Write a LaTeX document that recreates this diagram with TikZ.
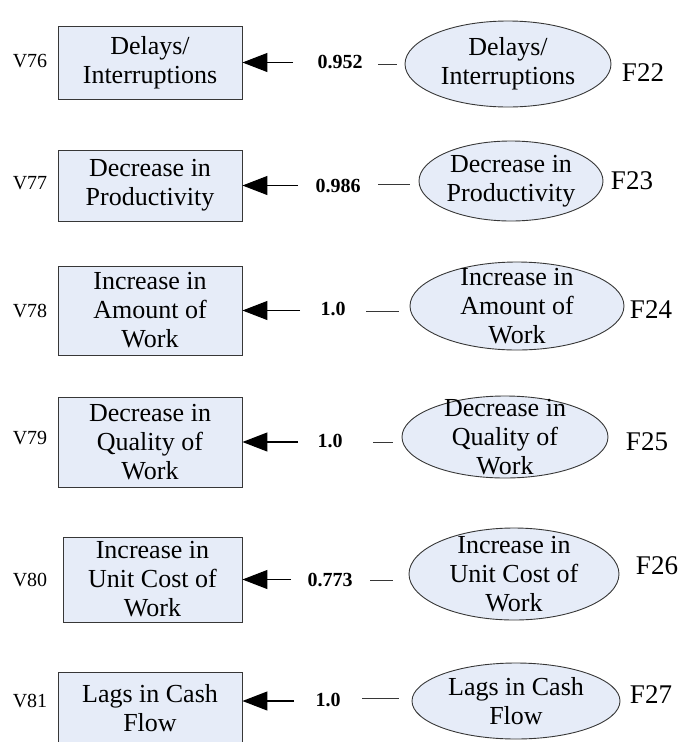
\documentclass[tikz,border=0pt]{standalone}
\usepackage{fontspec}
\setmainfont{Liberation Serif}
\usetikzlibrary{arrows.meta,shapes.geometric}
\definecolor{boxfill}{RGB}{230,236,248}
\definecolor{boxline}{RGB}{55,55,55}
\begin{document}
\begin{tikzpicture}[x=1pt, y=-1pt,
    obs/.style = {draw=boxline, fill=boxfill, line width=0.9pt, minimum width=184pt, inner sep=0pt, align=center, font=\fontsize{26}{29}\selectfont},
    lat/.style = {draw=boxline, fill=boxfill, line width=0.9pt, ellipse, inner sep=0pt},
    lattext/.style = {align=center, inner sep=0pt, font=\fontsize{26}{29}\selectfont},
    vname/.style = {font=\fontsize{20}{22}\selectfont},
    fname/.style = {font=\fontsize{27}{30}\selectfont},
    coef/.style = {font=\bfseries\fontsize{20}{22}\selectfont},
    load/.style = {-{Triangle[length=25pt, width=19pt]}, line width=1.2pt},
    stub/.style = {draw=boxline, line width=0.9pt}]

    \useasboundingbox (0,0) rectangle (683,742);
    \clip (0,0) rectangle (683,742);

    \node[vname] (v76) at (30,61) {V76};
    \node[obs, minimum height=73pt] (b1) at (150,62.5) {Delays/\\Interruptions};
    \node[lat, minimum width=206pt, minimum height=86pt] (e1) at (508,64) {};
    \node[lattext] (t1) at (e1) {Delays/\\Interruptions};
    \node[fname] (f22) at (643,73) {F22};
    \node[coef] (c1) at (340,62) {0.952};
    \coordinate (a1) at (293,62.5);
    \coordinate (s1) at (378,64);
    \coordinate (s1e) at (397,64);
    \draw[load] (a1) -- (b1.east);
    \draw[stub] (s1) -- (s1e);

    %--------------------------------------------

    \node[vname] (v77) at (30,183) {V77};
    \node[obs, minimum height=71pt] (b2) at (150,185.5) {Decrease in\\Productivity};
    \node[lat, minimum width=184pt, minimum height=80pt] (e2) at (511,181) {};
    \node[lattext] (t2) at (e2) {Decrease in\\Productivity};
    \node[fname] (f23) at (632,181) {F23};
    \node[coef] (c2) at (338,186) {0.986};
    \coordinate (a2) at (298,185.5);
    \coordinate (s2) at (378,184);
    \coordinate (s2e) at (410,184);
    \draw[load] (a2) -- (b2.east);
    \draw[stub] (s2) -- (s2e);

    %--------------------------------------------

    \node[vname] (v78) at (30,311) {V78};
    \node[obs, minimum height=89pt] (b3) at (150,310.5) {Increase in\\Amount of\\Work};
    \node[lat, minimum width=214pt, minimum height=88pt] (e3) at (517,306) {};
    \node[lattext] (t3) at (e3) {Increase in\\Amount of\\Work};
    \node[fname] (f24) at (651,310) {F24};
    \node[coef] (c3) at (333,309) {1.0};
    \coordinate (a3) at (300,310.5);
    \coordinate (s3) at (366,311);
    \coordinate (s3e) at (399,311);
    \draw[load] (a3) -- (b3.east);
    \draw[stub] (s3) -- (s3e);

    %--------------------------------------------

    \node[vname] (v79) at (30,438) {V79};
    \node[obs, minimum height=90pt] (b4) at (150,442) {Decrease in\\Quality of\\Work};
    \node[lat, minimum width=206pt, minimum height=82pt] (e4) at (505,437) {};
    \node[lattext] (t4) at (e4) {Decrease in\\Quality of\\Work};
    \node[fname] (f25) at (647,442) {F25};
    \node[coef] (c4) at (330,441) {1.0};
    \coordinate (a4) at (298,442);
    \coordinate (s4) at (373,442);
    \coordinate (s4e) at (393,442);
    \draw[load] (a4) -- (b4.east);
    \draw[stub] (s4) -- (s4e);

    %--------------------------------------------

    \node[vname] (v80) at (30,580) {V80};
    \node[obs, minimum width=179pt, minimum height=85pt] (b5) at (152.5,579.5) {Increase in\\Unit Cost of\\Work};
    \node[lat, minimum width=210pt, minimum height=92pt] (e5) at (514,574) {};
    \node[lattext] (t5) at (e5) {Increase in\\Unit Cost of\\Work};
    \node[fname] (f26) at (657,566) {F26};
    \node[coef] (c5) at (330,580) {0.773};
    \coordinate (a5) at (291,579.5);
    \coordinate (s5) at (370,580);
    \coordinate (s5e) at (393,580);
    \draw[load] (a5) -- (b5.east);
    \draw[stub] (s5) -- (s5e);

    %--------------------------------------------

    \node[vname] (v81) at (30,701) {V81};
    \node[obs, minimum height=73pt] (b6) at (150,708.5) {Lags in Cash\\Flow};
    \node[lat, minimum width=208pt, minimum height=76pt] (e6) at (516,701) {};
    \node[lattext] (t6) at (e6) {Lags in Cash\\Flow};
    \node[fname] (f27) at (651,695) {F27};
    \node[coef] (c6) at (328,700) {1.0};
    \coordinate (a6) at (294,701);
    \coordinate (s6) at (362,698);
    \coordinate (s6e) at (399,698);
    \draw[load] (a6) -- (b6.east |- a6);
    \draw[stub] (s6) -- (s6e);

\end{tikzpicture}
\end{document}
